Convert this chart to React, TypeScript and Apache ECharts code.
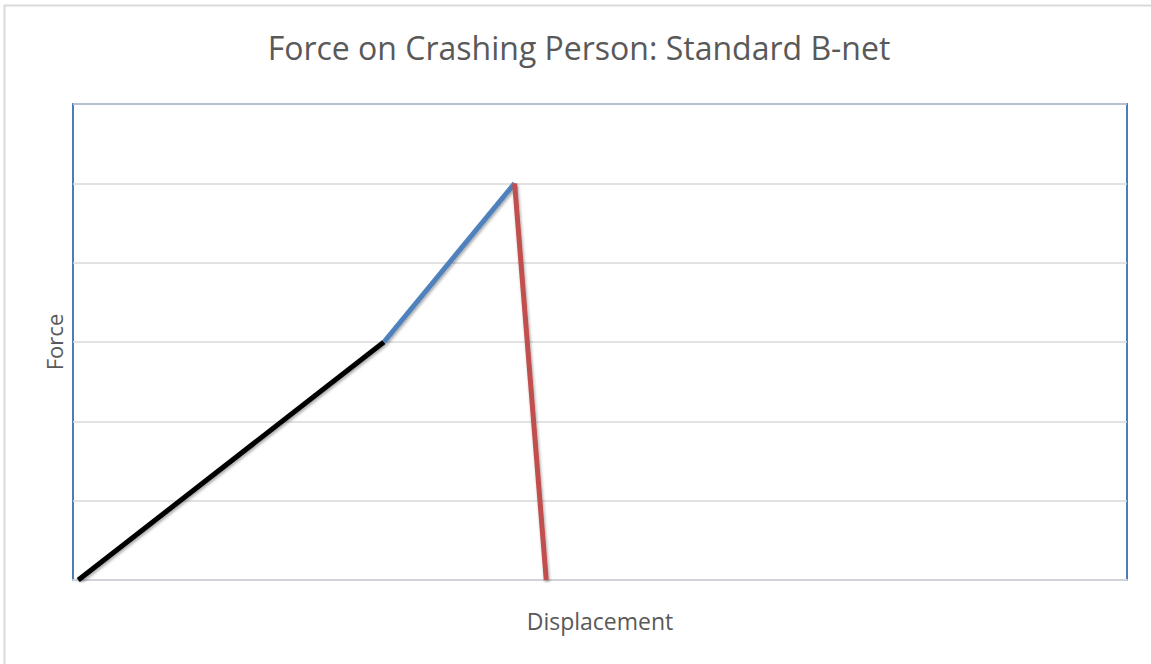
import React, { useEffect, useRef } from "react";
import * as echarts from "echarts";

const titleText = "Force on Crashing Person: Standard B-net";
const xName = "Displacement";
const yName = "Force";
const blackSeg: number[][] = [[0.05, 0], [2.95, 3]];
const blueSeg: number[][] = [[2.95, 3], [4.19, 5]];
const redSeg: number[][] = [[4.19, 5], [4.49, 0]];

const lineSeries = (data: number[][], color: string) => ({
  type: "line",
  data,
  symbol: "none",
  lineStyle: {
    color,
    width: 5,
    shadowColor: "rgba(0,0,0,0.35)",
    shadowBlur: 3,
    shadowOffsetX: 1,
    shadowOffsetY: 2,
  },
  z: 5,
});

export default function App() {
  const ref = useRef<HTMLDivElement>(null);
  useEffect(() => {
    const chart = echarts.init(ref.current!, null, { renderer: "svg" });
    chart.setOption({
      animation: false,
      backgroundColor: "#ffffff",
      title: {
        text: titleText,
        left: 574,
        top: 26,
        textAlign: "center",
        textStyle: { fontFamily: "Open Sans", fontSize: 32, fontWeight: "normal", color: "#595959" },
      },
      graphic: [
        {
          type: "rect",
          shape: { x: 4.5, y: 5.5, width: 1200, height: 700 },
          style: { fill: "none", stroke: "#d9d9d9", lineWidth: 2 },
          silent: true,
        },
      ],
      grid: {
        left: 73,
        top: 104,
        width: 1054,
        height: 476,
        show: true,
        borderColor: "#4a7ebb",
        borderWidth: 2,
        backgroundColor: "transparent",
      },
      xAxis: {
        type: "value",
        min: 0,
        max: 10,
        name: xName,
        nameLocation: "middle",
        nameGap: 29,
        nameTextStyle: { fontFamily: "Open Sans", fontSize: 23, color: "#595959" },
        axisLine: { show: true, lineStyle: { color: "#d0d4d9", width: 2 } },
        axisTick: { show: false },
        axisLabel: { show: false },
        splitLine: { show: false },
      },
      yAxis: {
        type: "value",
        min: 0,
        max: 6,
        interval: 1,
        name: yName,
        nameLocation: "middle",
        nameGap: 8,
        nameTextStyle: { fontFamily: "Open Sans", fontSize: 22, color: "#595959" },
        axisLine: { show: false },
        axisTick: { show: false },
        axisLabel: { show: false },
        splitLine: { show: true, lineStyle: { color: "#d9d9d9", width: 1.5 } },
      },
      series: [
        lineSeries(blackSeg, "#000000"),
        lineSeries(blueSeg, "#4f81bd"),
        lineSeries(redSeg, "#c0504d"),
      ],
    });
    return () => chart.dispose();
  }, []);
  return (
    <div
      ref={ref}
      style={{ position: "fixed", left: 0, top: 0, width: 1151, height: 664 }}
    />
  );
}
